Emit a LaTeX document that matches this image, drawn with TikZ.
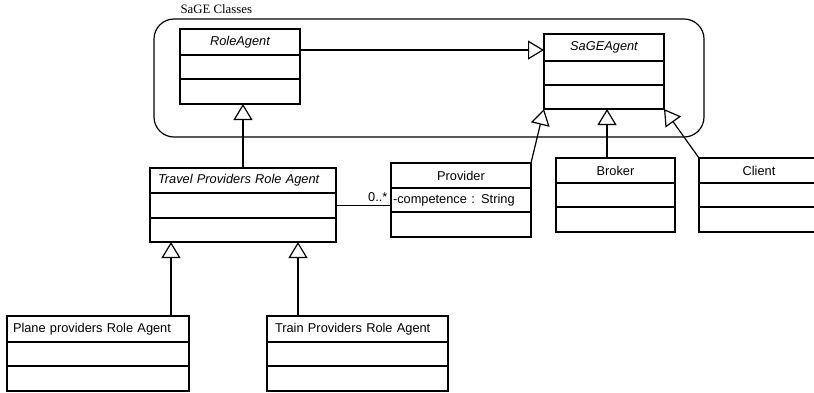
\documentclass[tikz,border=0pt]{standalone}
\usepackage{fontspec}
\setmainfont{Liberation Serif}
\setsansfont{Liberation Sans}
\usetikzlibrary{arrows.meta, positioning}

\tikzset{
  cls/.style={draw, line width=1.2pt, outer sep=0pt, inner sep=0pt},
  gen/.style={line width=1.2pt, -{Triangle[length=16pt, width=19pt, fill=white]}},
  assoc/.style={line width=1.2pt},
}

\begin{document}
\begin{tikzpicture}[x=1pt, y=-1pt, every node/.style={font=\sffamily\fontsize{12.8}{15}\selectfont}]
\useasboundingbox (0,0) rectangle (814,392);

% package frame
\draw[line width=1.2pt, rounded corners=20pt] (154,19) rectangle (704,137);
\node[anchor=base west] (pkg) at (177,13) {\rmfamily SaGE Classes};

% RoleAgent
\node[cls, minimum width=120, minimum height=26] (role1) at (240,42) {\itshape RoleAgent};
\node[cls, minimum width=120, minimum height=24, below=0pt of role1] (role2) {};
\node[cls, minimum width=120, minimum height=25, below=0pt of role2] (role3) {};

% SaGEAgent
\node[cls, minimum width=120, minimum height=27] (sage1) at (604,47.5) {\itshape SaGEAgent};
\node[cls, minimum width=120, minimum height=24, below=0pt of sage1] (sage2) {};
\node[cls, minimum width=120, minimum height=24, below=0pt of sage2] (sage3) {};

% Travel Providers Role Agent
\node[cls, minimum width=186, minimum height=25, text width=170, align=left] (trav1) at (243,180.5) {\itshape Travel Providers Role Agent};
\node[cls, minimum width=186, minimum height=25, below=0pt of trav1] (trav2) {};
\node[cls, minimum width=186, minimum height=24, below=0pt of trav2] (trav3) {};

% Provider
\node[cls, minimum width=140, minimum height=25] (prov1) at (461,175.5) {Provider};
\node[cls, minimum width=140, minimum height=24, text width=136, align=left, below=0pt of prov1] (prov2) {-competence : String};
\node[cls, minimum width=140, minimum height=25, below=0pt of prov2] (prov3) {};

% Broker
\node[cls, minimum width=119, minimum height=25] (brok1) at (615.5,170.5) {Broker};
\node[cls, minimum width=119, minimum height=24, below=0pt of brok1] (brok2) {};
\node[cls, minimum width=119, minimum height=25, below=0pt of brok2] (brok3) {};

% Client (runs off the right edge)
\node[cls, minimum width=120, minimum height=25] (cli1) at (759,170.5) {Client};
\node[cls, minimum width=120, minimum height=24, below=0pt of cli1] (cli2) {};
\node[cls, minimum width=120, minimum height=25, below=0pt of cli2] (cli3) {};

% Plane providers Role Agent
\node[cls, minimum width=182, minimum height=26, text width=170, align=left] (plane1) at (98,329) {Plane providers Role Agent};
\node[cls, minimum width=182, minimum height=24, below=0pt of plane1] (plane2) {};
\node[cls, minimum width=182, minimum height=25, below=0pt of plane2] (plane3) {};

% Train Providers Role Agent
\node[cls, minimum width=181, minimum height=26, text width=165, align=left] (train1) at (357.5,329) {Train Providers Role Agent};
\node[cls, minimum width=181, minimum height=24, below=0pt of train1] (train2) {};
\node[cls, minimum width=181, minimum height=25, below=0pt of train2] (train3) {};

% generalisations
\draw[gen] ([yshift=-8pt]role1.east) -- ([yshift=-8pt]role1.east -| sage1.west);
\draw[gen] (trav1.north) -- (trav1.north |- role3.south);
\draw[gen] (prov1.north east) -- (sage3.south west);
\draw[gen] ([xshift=-8.5pt]brok1.north) -- ([xshift=-8.5pt]brok1.north |- sage3.south);
\draw[gen] (cli1.north west) -- (sage3.south east);
\draw[gen] ([xshift=73pt]plane1.north) -- ([xshift=73pt]plane1.north |- trav3.south);
\draw[gen] ([xshift=-59.5pt]train1.north) -- ([xshift=-59.5pt]train1.north |- trav3.south);

% association
\draw[assoc] (trav2.east) -- (trav2.east -| prov2.west) node[pos=1, above left, inner sep=3pt] {0..*};

\end{tikzpicture}
\end{document}
